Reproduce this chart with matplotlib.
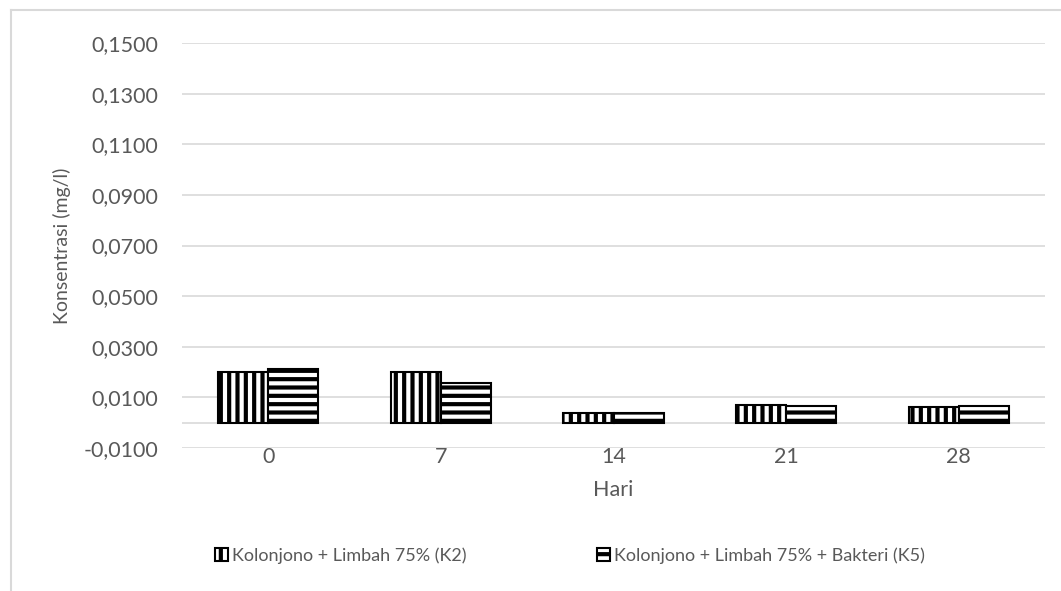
import matplotlib
matplotlib.use('Agg')
import matplotlib.pyplot as plt
from matplotlib.lines import Line2D
from matplotlib.ticker import FuncFormatter
import numpy as np

days = ['0', '7', '14', '21', '28']
k2_values = [0.0200, 0.0200, 0.0040, 0.0068, 0.0062]
k5_values = [0.0213, 0.0158, 0.0040, 0.0064, 0.0066]
series_names = ['Kolonjono + Limbah 75% (K2)', 'Kolonjono + Limbah 75% + Bakteri (K5)']
y_ticks = [-0.01, 0.01, 0.03, 0.05, 0.07, 0.09, 0.11, 0.13, 0.15]

plt.rcParams['font.family'] = ['Lato', 'DejaVu Sans']
plt.rcParams['hatch.linewidth'] = 3.0
text_color = '#595959'
grid_color = '#d9d9d9'

fig = plt.figure(figsize=(10.61, 5.91), dpi=100)
ax = fig.add_axes([0.1715, 0.242, 0.8135, 0.685])

x = np.arange(len(days))
width = 0.29
ax.bar(x - width / 2, k2_values, width, color='white', edgecolor='black',
       hatch='||', linewidth=1.5, zorder=3, label=series_names[0])
ax.bar(x + width / 2, k5_values, width, color='white', edgecolor='black',
       hatch='--', linewidth=1.5, zorder=3, label=series_names[1])

ax.set_xlim(-0.5, len(days) - 0.5)
ax.set_ylim(-0.01, 0.15)
ax.set_yticks(y_ticks)
ax.yaxis.set_major_formatter(FuncFormatter(lambda v, p: f'{v:.4f}'.replace('.', ',')))
ax.set_xticks(x)
ax.set_xticklabels(days)

for v in y_ticks:
    ax.axhline(v, color=grid_color, linewidth=1.2, zorder=1)
ax.axhline(0, color=grid_color, linewidth=1.2, zorder=1)

for s in ax.spines.values():
    s.set_visible(False)
ax.tick_params(axis='both', length=0, labelsize=15.5, labelcolor=text_color)
ax.tick_params(axis='y', pad=17)
ax.tick_params(axis='x', pad=-1)

ax.set_xlabel('Hari', fontsize=15.5, color=text_color, labelpad=10)
ax.set_ylabel('Konsentrasi (mg/l)', fontsize=14, color=text_color, labelpad=9)

leg = fig.legend(loc='center', bbox_to_anchor=(0.537, 0.06), ncol=2, frameon=False,
                 fontsize=13, handlelength=0.75, handleheight=0.75, handletextpad=0.2,
                 columnspacing=7.2)
for t in leg.get_texts():
    t.set_color(text_color)

# chart frame (cropped on right and bottom)
fig.add_artist(Line2D([11 / 1061, 11 / 1061], [0, 1 - 10 / 591], transform=fig.transFigure,
                      color=grid_color, linewidth=1.5))
fig.add_artist(Line2D([11 / 1061, 1], [1 - 10 / 591, 1 - 10 / 591], transform=fig.transFigure,
                      color=grid_color, linewidth=1.5))

fig.savefig('out.png', dpi=100)
